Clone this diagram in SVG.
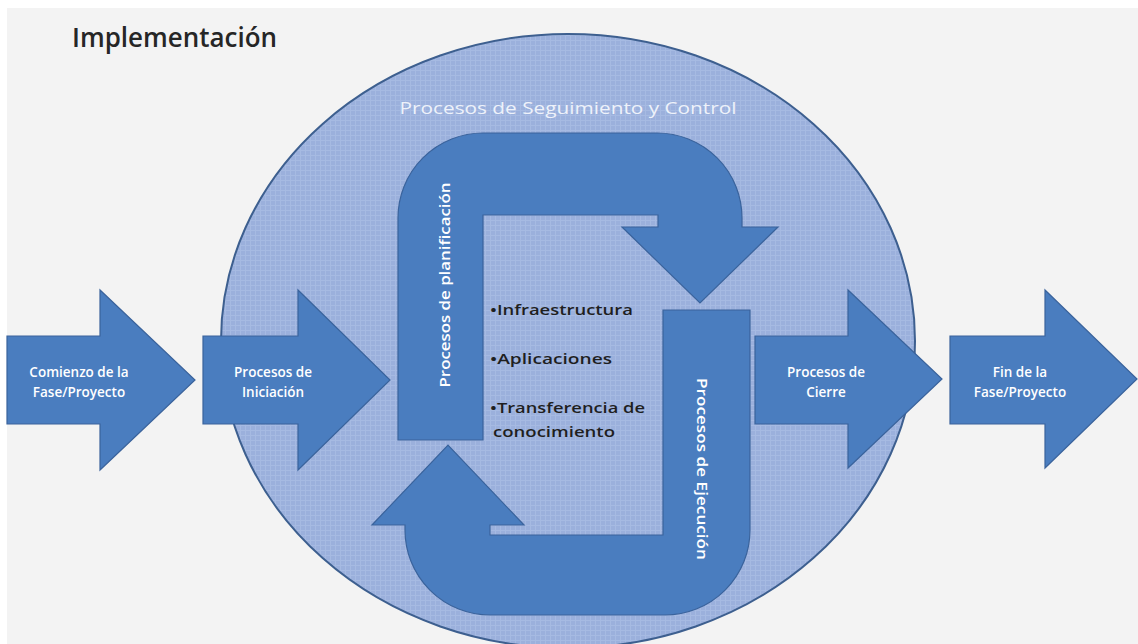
<svg xmlns="http://www.w3.org/2000/svg" width="1138" height="644" viewBox="0 0 1138 644">
  <defs>
    <!-- fine grid texture used inside the monitoring circle -->
    <pattern id="gridTexture" width="5" height="5" patternUnits="userSpaceOnUse">
      <rect width="5" height="5" fill="#9bb0dc"/>
      <path d="M0,0.5 H5 M0.5,0 V5" stroke="#b4c4e8" stroke-width="1" opacity="0.45"/>
    </pattern>
    <style>
      .arrow { fill: #4a7dbf; stroke: #3a639c; stroke-width: 1.2; stroke-linejoin: miter; }
      .label { font-family: "Open Sans", "Liberation Sans", sans-serif; fill: #ffffff; font-weight: 600; font-size: 13.5px; text-anchor: middle; }
      .vlabel { font-family: "Open Sans", "Liberation Sans", sans-serif; fill: #ffffff; font-weight: 600; font-size: 14px; text-anchor: middle; }
      .bullet { font-family: "Open Sans", "Liberation Sans", sans-serif; fill: #1f1f1f; font-weight: 600; font-size: 15px; }
      .title { font-family: "Open Sans", "Liberation Sans", sans-serif; fill: #262626; font-weight: 600; font-size: 27px; }
      .ring { font-family: "Open Sans", "Liberation Sans", sans-serif; fill: #eef2fa; font-weight: 500; font-size: 16px; text-anchor: middle; }
    </style>
  </defs>

  <!-- page -->
  <rect x="0" y="0" width="1138" height="644" fill="#ffffff"/>
  <rect x="7" y="8" width="1131" height="636" fill="#f3f3f3"/>

  <text class="title" x="72" y="47" textLength="205" lengthAdjust="spacingAndGlyphs">Implementación</text>

  <!-- monitoring and control circle -->
  <g id="seguimiento">
    <ellipse cx="568" cy="341" rx="347" ry="307" fill="url(#gridTexture)" stroke="#3d5f8f" stroke-width="2"/>
    <text class="ring" x="568" y="114" textLength="337" lengthAdjust="spacingAndGlyphs">Procesos de Seguimiento y Control</text>
  </g>

  <g id="connectors">
    <!-- phase arrows -->
    <g id="comienzo">
      <path class="arrow" d="M7,336 H100 V290 L195,380 L100,470 V424 H7 Z"/>
      <text class="label" x="79" y="377">Comienzo de la</text>
      <text class="label" x="79" y="397">Fase/Proyecto</text>
    </g>
    <g id="iniciacion">
      <path class="arrow" d="M203,336 H298 V290 L390,380 L298,470 V424 H203 Z"/>
      <text class="label" x="273" y="377">Procesos de</text>
      <text class="label" x="273" y="397">Iniciación</text>
    </g>
    <g id="cierre">
      <path class="arrow" d="M755,336 H848 V290 L942,379 L848,468 V424 H755 Z"/>
      <text class="label" x="826" y="377">Procesos de</text>
      <text class="label" x="826" y="397">Cierre</text>
    </g>
    <g id="fin">
      <path class="arrow" d="M950,336 H1045 V290 L1137,379 L1045,468 V424 H950 Z"/>
      <text class="label" x="1020" y="377">Fin de la</text>
      <text class="label" x="1020" y="397">Fase/Proyecto</text>
    </g>

    <!-- planning loop (top U-turn) -->
    <g id="planificacion">
      <path class="arrow" d="M398,440 V218 A85,85 0 0 1 483,133 H657 A85,85 0 0 1 742,218 V227 H778 L700,303 L622,227 H658 V215 H483 V440 Z"/>
      <text class="vlabel" transform="translate(445,285) rotate(-90)" x="0" y="5" textLength="205" lengthAdjust="spacingAndGlyphs">Procesos de planificación</text>
    </g>

    <!-- execution loop (bottom U-turn) -->
    <g id="ejecucion">
      <path class="arrow" d="M663,310 H750 V530 A85,85 0 0 1 665,615 H490 A85,85 0 0 1 405,530 V525 H372 L448,445 L524,525 H490 V535 H663 Z"/>
      <text class="vlabel" transform="translate(702,469) rotate(90)" x="0" y="5" textLength="182" lengthAdjust="spacingAndGlyphs">Procesos de Ejecución</text>
    </g>
  </g>

  <!-- scope items -->
  <g id="alcance">
    <text class="bullet" x="490" y="315" textLength="143" lengthAdjust="spacingAndGlyphs">•Infraestructura</text>
    <text class="bullet" x="490" y="364" textLength="122" lengthAdjust="spacingAndGlyphs">•Aplicaciones</text>
    <text class="bullet" x="490" y="413" textLength="155" lengthAdjust="spacingAndGlyphs">•Transferencia de</text>
    <text class="bullet" x="493" y="437" textLength="122" lengthAdjust="spacingAndGlyphs">conocimiento</text>
  </g>
</svg>
